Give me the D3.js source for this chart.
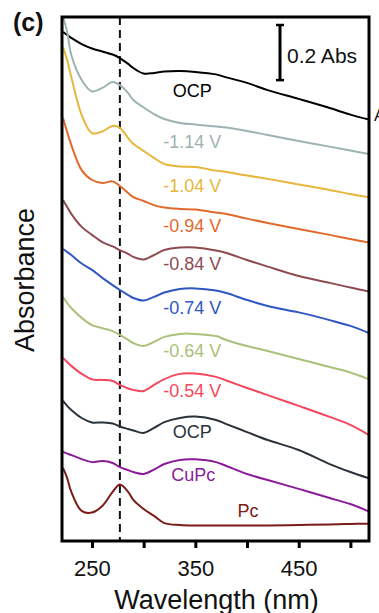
<!DOCTYPE html>
<html>
<head>
<meta charset="utf-8">
<script src="https://cdn.jsdelivr.net/npm/d3@7"></script>
<style>
  html, body { margin: 0; padding: 0; background: #fff; }
  svg { display: block; font-family: "Liberation Sans", Arial, sans-serif; }
</style>
</head>
<body>
<svg id="chart" width="379" height="613"></svg>
<script>
// Wavelength grid (nm)
const wavelengths = [222, 226, 230, 240, 250, 260, 270, 277, 285, 290, 300, 310, 320, 335, 350, 370, 380, 400, 420, 450, 480, 500, 518];

// Stacked (offset) absorbance of each spectrum, top to bottom
const ocpTop = [1.846, 1.835, 1.824, 1.802, 1.786, 1.775, 1.764, 1.751, 1.730, 1.715, 1.695, 1.697, 1.702, 1.704, 1.701, 1.692, 1.681, 1.661, 1.635, 1.603, 1.570, 1.546, 1.528];
const v114 = [1.900, 1.846, 1.762, 1.672, 1.630, 1.643, 1.664, 1.653, 1.624, 1.599, 1.572, 1.548, 1.530, 1.516, 1.510, 1.503, 1.499, 1.487, 1.472, 1.450, 1.430, 1.416, 1.403];
const v104 = [1.791, 1.744, 1.682, 1.545, 1.479, 1.485, 1.505, 1.498, 1.461, 1.440, 1.414, 1.389, 1.367, 1.358, 1.356, 1.343, 1.338, 1.325, 1.313, 1.293, 1.273, 1.258, 1.246];
const v094 = [1.534, 1.483, 1.436, 1.345, 1.309, 1.298, 1.304, 1.287, 1.262, 1.247, 1.233, 1.218, 1.209, 1.204, 1.202, 1.191, 1.186, 1.169, 1.153, 1.131, 1.110, 1.095, 1.082];
const v084 = [1.236, 1.211, 1.186, 1.139, 1.110, 1.084, 1.068, 1.055, 1.041, 1.030, 1.021, 1.037, 1.055, 1.064, 1.064, 1.053, 1.044, 1.019, 0.995, 0.961, 0.936, 0.919, 0.905];
const v074 = [1.059, 1.048, 1.037, 1.006, 0.983, 0.954, 0.928, 0.910, 0.892, 0.881, 0.872, 0.885, 0.901, 0.914, 0.916, 0.908, 0.899, 0.874, 0.852, 0.829, 0.801, 0.780, 0.754];
const v064 = [0.885, 0.863, 0.845, 0.809, 0.783, 0.772, 0.761, 0.747, 0.729, 0.718, 0.707, 0.722, 0.740, 0.751, 0.751, 0.743, 0.729, 0.707, 0.689, 0.660, 0.631, 0.611, 0.586];
const v054 = [0.664, 0.649, 0.635, 0.606, 0.586, 0.584, 0.580, 0.566, 0.553, 0.548, 0.544, 0.566, 0.587, 0.606, 0.607, 0.595, 0.582, 0.555, 0.529, 0.490, 0.450, 0.421, 0.384];
const ocpBottom = [0.508, 0.490, 0.475, 0.446, 0.430, 0.430, 0.426, 0.415, 0.406, 0.401, 0.392, 0.410, 0.431, 0.446, 0.451, 0.439, 0.424, 0.395, 0.366, 0.330, 0.279, 0.250, 0.227];
const cuPc = [0.323, 0.317, 0.312, 0.297, 0.286, 0.290, 0.283, 0.268, 0.257, 0.250, 0.243, 0.259, 0.279, 0.294, 0.296, 0.286, 0.272, 0.243, 0.221, 0.189, 0.156, 0.134, 0.107];
const pc = [0.265, 0.228, 0.178, 0.109, 0.103, 0.127, 0.178, 0.205, 0.178, 0.149, 0.116, 0.091, 0.065, 0.058, 0.056, 0.056, 0.056, 0.056, 0.056, 0.058, 0.060, 0.062, 0.063];

const seriesNames = ["OCP", "-1.14 V", "-1.04 V", "-0.94 V", "-0.84 V", "-0.74 V", "-0.64 V", "-0.54 V", "OCP", "CuPc", "Pc"];
const seriesValues = [ocpTop, v114, v104, v094, v084, v074, v064, v054, ocpBottom, cuPc, pc];

// Label anchors (wavelength nm, stacked absorbance)
const labelWl = [347, 347, 347, 347, 347, 347, 347, 347, 347, 348, 401];
const labelAbs = [1.610, 1.425, 1.267, 1.122, 0.983, 0.823, 0.668, 0.521, 0.372, 0.219, 0.088];

const xTicks = [250, 300, 350, 400, 450, 500];
const xTickLabels = ["250", "", "350", "", "450", ""];
const peakLine = 277;
const scaleBarAbs = 0.2;

const colors = ["#000000", "#9fb2b3", "#e6b73c", "#df6a2c", "#8e4b4f", "#2f56c2", "#a9c178", "#f4475c", "#2a323c", "#8b1c98", "#7a1c18"];

const svg = d3.select("#chart");
const L = 62, R = 369, T = 17, B = 541;

const x = d3.scaleLinear().domain([221, 518]).range([L, R]);
const y = d3.scaleLinear().domain([0, 1.9]).range([B, T]);

svg.append("defs").append("clipPath").attr("id", "clip")
  .append("rect").attr("x", L).attr("y", T).attr("width", R - L).attr("height", B - T);

const line = d3.line()
  .x((d, i) => x(wavelengths[i]))
  .y(d => y(d))
  .curve(d3.curveCatmullRom.alpha(0.5));

const g = svg.append("g").attr("clip-path", "url(#clip)");

// Dashed reference line
g.append("line")
  .attr("x1", x(peakLine)).attr("x2", x(peakLine))
  .attr("y1", T).attr("y2", B)
  .attr("stroke", "#111").attr("stroke-width", 2)
  .attr("stroke-dasharray", "8,5");

seriesValues.forEach((vals, i) => {
  g.append("path")
    .attr("d", line(vals))
    .attr("fill", "none")
    .attr("stroke", colors[i])
    .attr("stroke-width", 2)
    .attr("stroke-linejoin", "round");
});

// Labels
seriesNames.forEach((name, i) => {
  svg.append("text")
    .attr("x", x(labelWl[i]))
    .attr("y", y(labelAbs[i]))
    .attr("text-anchor", "middle")
    .attr("font-size", 18)
    .attr("fill", colors[i])
    .text(name);
});

// X axis
const axis = d3.axisBottom(x)
  .tickValues(xTicks)
  .tickSize(7)
  .tickFormat((d, i) => xTickLabels[i]);
const ax = svg.append("g").attr("transform", `translate(0,${B})`).call(axis);
ax.select(".domain").remove();
ax.selectAll(".tick line").attr("stroke", "#000").attr("stroke-width", 3);
ax.selectAll(".tick text")
  .attr("y", 35).attr("dy", 0)
  .attr("font-size", 22)
  .attr("font-family", "'Liberation Sans', Arial, sans-serif")
  .attr("fill", "#111");

// Frame
svg.append("rect")
  .attr("x", L).attr("y", T).attr("width", R - L).attr("height", B - T)
  .attr("fill", "none").attr("stroke", "#000").attr("stroke-width", 3);

// Scale bar
const sbX = 280;
const sbTop = 25;
const sbBot = sbTop + (y(0) - y(scaleBarAbs));
svg.append("line").attr("x1", sbX).attr("x2", sbX).attr("y1", sbTop).attr("y2", sbBot)
  .attr("stroke", "#000").attr("stroke-width", 3);
[sbTop, sbBot].forEach(yy => {
  svg.append("line").attr("x1", sbX - 4).attr("x2", sbX + 4).attr("y1", yy).attr("y2", yy)
    .attr("stroke", "#000").attr("stroke-width", 2.5);
});
svg.append("text").attr("x", 287).attr("y", 63)
  .attr("font-size", 21).attr("fill", "#111").text(scaleBarAbs + " Abs");

// Cut-off glyph at right edge (as in the reference)
svg.append("text").attr("x", 374).attr("y", 121)
  .attr("font-size", 17).attr("fill", "#111").text("A");

// Axis titles
svg.append("text")
  .attr("x", (L + R) / 2 + 1).attr("y", 609)
  .attr("text-anchor", "middle")
  .attr("font-size", 27).attr("fill", "#111")
  .text("Wavelength (nm)");

svg.append("text")
  .attr("transform", "translate(34,280) rotate(-90)")
  .attr("text-anchor", "middle")
  .attr("font-size", 27).attr("fill", "#111")
  .text("Absorbance");

// Panel label
svg.append("text").attr("x", 13).attr("y", 31)
  .attr("font-size", 25).attr("font-weight", "bold").attr("fill", "#111")
  .text("(c)");
</script>
</body>
</html>
